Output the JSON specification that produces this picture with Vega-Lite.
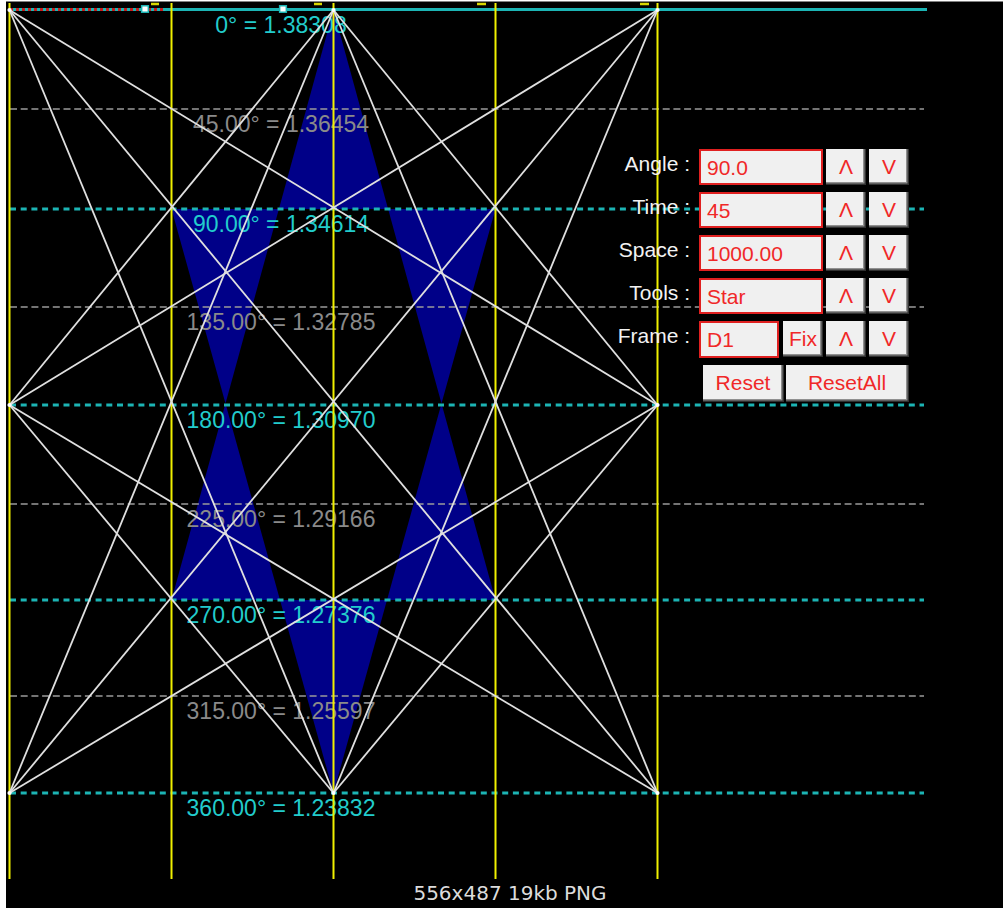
{
  "$schema": "https://vega.github.io/schema/vega-lite/v6.json",
  "width": 1003,
  "height": 908,
  "autosize": {"type": "fit", "contains": "padding"},
  "padding": 0,
  "background": "#000000",
  "config": {"view": {"stroke": null}, "text": {"font": "Liberation Sans"}},
  "datasets": {
    "strips": [{"x": 0, "x2": 6, "y": 0, "y2": 908}, {"x": 0, "x2": 1003, "y": 0, "y2": 1.5}],
    "blue": [
      {"s": "top", "y": 10, "x": 333.5, "x2": 333.5},
      {"s": "top", "y": 209, "x": 278.9, "x2": 388.1},
      {"s": "left", "y": 209, "x": 171.5, "x2": 278.9},
      {"s": "left", "y": 403.5, "x": 225.5, "x2": 225.5},
      {"s": "left", "y": 600, "x": 171.5, "x2": 280},
      {"s": "right", "y": 209, "x": 388.1, "x2": 495.5},
      {"s": "right", "y": 403.5, "x": 441.5, "x2": 441.5},
      {"s": "right", "y": 600, "x": 387, "x2": 495.5},
      {"s": "bottom", "y": 600, "x": 280, "x2": 387},
      {"s": "bottom", "y": 793, "x": 333.5, "x2": 333.5}
    ],
    "hgray": [
      {"x": 10, "x2": 924, "y": 109, "y2": 109},
      {"x": 10, "x2": 924, "y": 307, "y2": 307},
      {"x": 10, "x2": 924, "y": 504, "y2": 504},
      {"x": 10, "x2": 924, "y": 696, "y2": 696}
    ],
    "hcyan": [
      {"x": 10, "x2": 924, "y": 209, "y2": 209},
      {"x": 10, "x2": 924, "y": 405, "y2": 405},
      {"x": 10, "x2": 924, "y": 600, "y2": 600},
      {"x": 10, "x2": 924, "y": 793, "y2": 793}
    ],
    "topline": [{"x": 10, "x2": 927, "y": 9.5, "y2": 9.5}],
    "topred": [{"x": 10, "x2": 163, "y": 9.5, "y2": 9.5}],
    "ticks": [
      {"x": 151, "x2": 159, "y": 4, "y2": 4},
      {"x": 314, "x2": 322, "y": 4, "y2": 4},
      {"x": 477, "x2": 486, "y": 4, "y2": 4},
      {"x": 640, "x2": 649, "y": 4, "y2": 4}
    ],
    "yellow": [
      {"x": 9.5, "x2": 9.5, "y": 3, "y2": 879},
      {"x": 171.5, "x2": 171.5, "y": 3, "y2": 879},
      {"x": 333.5, "x2": 333.5, "y": 3, "y2": 879},
      {"x": 495.5, "x2": 495.5, "y": 3, "y2": 879},
      {"x": 657.5, "x2": 657.5, "y": 3, "y2": 879}
    ],
    "white": [
      {"x": 9.5, "y": 10, "x2": 657.5, "y2": 405},
      {"x": 9.5, "y": 10, "x2": 657.5, "y2": 793},
      {"x": 9.5, "y": 10, "x2": 333.5, "y2": 793},
      {"x": 657.5, "y": 10, "x2": 9.5, "y2": 405},
      {"x": 657.5, "y": 10, "x2": 9.5, "y2": 793},
      {"x": 657.5, "y": 10, "x2": 333.5, "y2": 793},
      {"x": 9.5, "y": 793, "x2": 657.5, "y2": 405},
      {"x": 657.5, "y": 793, "x2": 9.5, "y2": 405},
      {"x": 333.5, "y": 10, "x2": 9.5, "y2": 405},
      {"x": 333.5, "y": 10, "x2": 657.5, "y2": 405},
      {"x": 333.5, "y": 10, "x2": 9.5, "y2": 793},
      {"x": 333.5, "y": 10, "x2": 657.5, "y2": 793},
      {"x": 333.5, "y": 793, "x2": 9.5, "y2": 405},
      {"x": 333.5, "y": 793, "x2": 657.5, "y2": 405}
    ],
    "verts": [
      {"x": 9.5, "y": 10}, {"x": 333.5, "y": 10}, {"x": 657.5, "y": 10},
      {"x": 9.5, "y": 405}, {"x": 657.5, "y": 405},
      {"x": 9.5, "y": 793}, {"x": 333.5, "y": 793}, {"x": 657.5, "y": 793}
    ],
    "handles": [{"x": 145, "y": 9}, {"x": 283, "y": 9}],
    "labels": [
      {"x": 281, "y": 10, "t": "0° = 1.38308", "c": "cyan"},
      {"x": 281, "y": 109, "t": "45.00° = 1.36454", "c": "gray"},
      {"x": 281, "y": 209, "t": "90.00° = 1.34614", "c": "cyan"},
      {"x": 281, "y": 307, "t": "135.00° = 1.32785", "c": "gray"},
      {"x": 281, "y": 405, "t": "180.00° = 1.30970", "c": "cyan"},
      {"x": 281, "y": 504, "t": "225.00° = 1.29166", "c": "gray"},
      {"x": 281, "y": 600, "t": "270.00° = 1.27376", "c": "cyan"},
      {"x": 281, "y": 696, "t": "315.00° = 1.25597", "c": "gray"},
      {"x": 281, "y": 793, "t": "360.00° = 1.23832", "c": "cyan"}
    ],
    "formlabels": [
      {"x": 690, "y": 170.5, "t": "Angle :"},
      {"x": 690, "y": 213.5, "t": "Time :"},
      {"x": 690, "y": 256.5, "t": "Space :"},
      {"x": 690, "y": 299.5, "t": "Tools :"},
      {"x": 690, "y": 342.5, "t": "Frame :"}
    ],
    "boxes": [
      {"x": 700, "x2": 822, "y": 150, "y2": 184, "t": "90.0"},
      {"x": 700, "x2": 822, "y": 193, "y2": 227, "t": "45"},
      {"x": 700, "x2": 822, "y": 236, "y2": 270, "t": "1000.00"},
      {"x": 700, "x2": 822, "y": 279, "y2": 313, "t": "Star"},
      {"x": 700, "x2": 778, "y": 322, "y2": 357, "t": "D1"}
    ],
    "buttons": [
      {"x": 826, "x2": 866, "cx": 846, "y": 149, "y2": 185, "t": "Λ"},
      {"x": 869, "x2": 909, "cx": 889, "y": 149, "y2": 185, "t": "V"},
      {"x": 826, "x2": 866, "cx": 846, "y": 192, "y2": 228, "t": "Λ"},
      {"x": 869, "x2": 909, "cx": 889, "y": 192, "y2": 228, "t": "V"},
      {"x": 826, "x2": 866, "cx": 846, "y": 235, "y2": 271, "t": "Λ"},
      {"x": 869, "x2": 909, "cx": 889, "y": 235, "y2": 271, "t": "V"},
      {"x": 826, "x2": 866, "cx": 846, "y": 278, "y2": 314, "t": "Λ"},
      {"x": 869, "x2": 909, "cx": 889, "y": 278, "y2": 314, "t": "V"},
      {"x": 783, "x2": 823, "cx": 803, "y": 321, "y2": 357, "t": "Fix"},
      {"x": 826, "x2": 866, "cx": 846, "y": 321, "y2": 357, "t": "Λ"},
      {"x": 869, "x2": 909, "cx": 889, "y": 321, "y2": 357, "t": "V"},
      {"x": 703, "x2": 784, "cx": 743, "y": 365, "y2": 402, "t": "Reset"},
      {"x": 786, "x2": 909, "cx": 847, "y": 365, "y2": 402, "t": "ResetAll"}
    ],
    "caption": [{"x": 510, "y": 900, "t": "556x487 19kb PNG"}]
  },
  "encoding": {
    "x": {"field": "x", "type": "quantitative", "scale": {"domain": [0, 1003], "nice": false, "zero": false}, "axis": null},
    "y": {"field": "y", "type": "quantitative", "scale": {"domain": [0, 908], "nice": false, "zero": false, "reverse": true}, "axis": null}
  },
  "layer": [
    {
      "data": {"name": "strips"},
      "mark": {"type": "rect", "color": "#ffffff"},
      "encoding": {"x2": {"field": "x2"}, "y2": {"field": "y2"}}
    },
    {
      "data": {"name": "blue"},
      "mark": {"type": "area", "orient": "horizontal", "color": "#000088", "opacity": 1},
      "encoding": {
        "x": {"field": "x", "type": "quantitative", "stack": null, "scale": {"domain": [0, 1003], "nice": false, "zero": false}, "axis": null},
        "x2": {"field": "x2"},
        "detail": {"field": "s", "type": "nominal"}
      }
    },
    {
      "data": {"name": "hgray"},
      "mark": {"type": "rule", "color": "#9a9a9a", "strokeWidth": 1.5, "strokeDash": [7, 3.7]},
      "encoding": {"x2": {"field": "x2"}, "y2": {"field": "y2"}}
    },
    {
      "data": {"name": "hcyan"},
      "mark": {"type": "rule", "color": "#1cb4b4", "strokeWidth": 3, "strokeDash": [6, 4.7]},
      "encoding": {"x2": {"field": "x2"}, "y2": {"field": "y2"}}
    },
    {
      "data": {"name": "topline"},
      "mark": {"type": "rule", "color": "#1cb4b4", "strokeWidth": 3},
      "encoding": {"x2": {"field": "x2"}, "y2": {"field": "y2"}}
    },
    {
      "data": {"name": "topred"},
      "mark": {"type": "rule", "color": "#c81e1e", "strokeWidth": 3, "strokeDash": [3, 3]},
      "encoding": {"x2": {"field": "x2"}, "y2": {"field": "y2"}}
    },
    {
      "data": {"name": "ticks"},
      "mark": {"type": "rule", "color": "#d8d800", "strokeWidth": 2.5},
      "encoding": {"x2": {"field": "x2"}, "y2": {"field": "y2"}}
    },
    {
      "data": {"name": "labels"},
      "mark": {"type": "text", "align": "center", "baseline": "alphabetic", "dy": 22.5, "fontSize": 23},
      "encoding": {
        "text": {"field": "t"},
        "color": {"field": "c", "type": "nominal", "scale": {"domain": ["cyan", "gray"], "range": ["#22cccc", "#8a8a8a"]}, "legend": null}
      }
    },
    {
      "data": {"name": "yellow"},
      "mark": {"type": "rule", "color": "#f0f000", "strokeWidth": 2},
      "encoding": {"x2": {"field": "x2"}, "y2": {"field": "y2"}}
    },
    {
      "data": {"name": "white"},
      "mark": {"type": "rule", "color": "#e0e0e0", "strokeWidth": 1.8},
      "encoding": {"x2": {"field": "x2"}, "y2": {"field": "y2"}}
    },
    {
      "data": {"name": "verts"},
      "mark": {"type": "point", "filled": true, "color": "#ffffff", "size": 18, "opacity": 1}
    },
    {
      "data": {"name": "handles"},
      "mark": {"type": "point", "shape": "square", "filled": true, "fill": "#ffffff", "stroke": "#1cb4b4", "strokeWidth": 1.5, "size": 45, "opacity": 1}
    },
    {
      "data": {"name": "formlabels"},
      "mark": {"type": "text", "align": "right", "baseline": "alphabetic", "fontSize": 21, "color": "#f2f2f2"},
      "encoding": {"text": {"field": "t"}}
    },
    {
      "data": {"name": "boxes"},
      "mark": {"type": "rect", "fill": "#f0f0f0", "stroke": "#e02020", "strokeWidth": 2},
      "encoding": {"x2": {"field": "x2"}, "y2": {"field": "y2"}}
    },
    {
      "data": {"name": "boxes"},
      "mark": {"type": "text", "align": "left", "baseline": "alphabetic", "dx": 7, "dy": 25, "fontSize": 21, "color": "#f02828"},
      "encoding": {"text": {"field": "t"}}
    },
    {
      "data": {"name": "buttons"},
      "mark": {"type": "rect", "color": "#303030"},
      "encoding": {"x2": {"field": "x2"}, "y2": {"field": "y2"}}
    },
    {
      "data": {"name": "buttons"},
      "mark": {"type": "rect", "color": "#909090", "x2Offset": -1.5, "y2Offset": -1.5},
      "encoding": {"x2": {"field": "x2"}, "y2": {"field": "y2"}}
    },
    {
      "data": {"name": "buttons"},
      "mark": {"type": "rect", "color": "#f0f0f0", "x2Offset": -3, "y2Offset": -3},
      "encoding": {"x2": {"field": "x2"}, "y2": {"field": "y2"}}
    },
    {
      "data": {"name": "buttons"},
      "mark": {"type": "text", "align": "center", "baseline": "alphabetic", "dy": 25, "fontSize": 21, "color": "#f02828"},
      "encoding": {
        "x": {"field": "cx", "type": "quantitative", "scale": {"domain": [0, 1003], "nice": false, "zero": false}, "axis": null},
        "text": {"field": "t"}
      }
    },
    {
      "data": {"name": "caption"},
      "mark": {"type": "text", "align": "center", "baseline": "alphabetic", "fontSize": 20, "font": "DejaVu Sans", "color": "#dcdcdc"},
      "encoding": {"text": {"field": "t"}}
    }
  ]
}
